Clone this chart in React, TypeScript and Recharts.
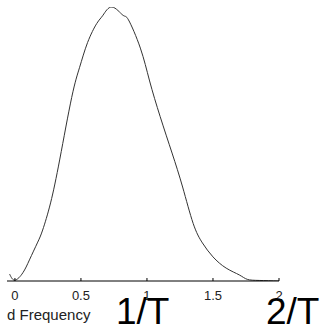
import React from 'react';
import { LineChart, Line, XAxis, YAxis } from 'recharts';

// normalized frequency (x) and magnitude (y)
const freq = [-0.04, 0, 0.06, 0.11, 0.17, 0.21, 0.27, 0.34, 0.43, 0.49, 0.55, 0.62, 0.667, 0.735, 0.818, 0.86, 0.95, 1.02, 1.1, 1.19, 1.27, 1.35, 1.42, 1.5, 1.6, 1.7, 1.76, 1.85, 2];
const magnitude = [0.025, 0.003, 0.03, 0.077, 0.139, 0.186, 0.285, 0.445, 0.67, 0.78, 0.87, 0.94, 0.97, 1.0, 0.97, 0.953, 0.85, 0.73, 0.6, 0.467, 0.343, 0.21, 0.139, 0.088, 0.047, 0.022, 0.006, 0.002, 0];
const xTicks = [0, 0.5, 1, 1.5, 2];

const data = freq.map((f, i) => ({ f, m: magnitude[i] }));

const font = '"Liberation Sans", Arial, sans-serif';

const Tick = (props: any) => {
  const { x, y, payload } = props;
  return (
    <g>
      <line x1={x} x2={x} y1={y} y2={y - 3} stroke="#000" />
      <text x={x} y={y + 19} textAnchor="middle" fontSize={13} fontFamily={font} fill="#222">
        {String(payload.value)}
      </text>
    </g>
  );
};

export default function App() {
  return (
    <div style={{ position: 'absolute', left: 0, top: 0, width: 323, height: 327, background: '#fff' }}>
      <LineChart width={323} height={327} data={data} margin={{ top: 7, right: 44, bottom: 16, left: 7 }}>
        <XAxis
          type="number"
          dataKey="f"
          domain={[-0.06, 2]}
          ticks={xTicks}
          allowDataOverflow
          height={30}
          tickSize={0}
          tickMargin={0}
          tickLine={false}
          axisLine={{ stroke: '#000', strokeWidth: 1 }}
          tick={<Tick />}
        />
        <YAxis hide domain={[0, 1]} allowDataOverflow />
        <Line type="natural" dataKey="m" stroke="#333" strokeWidth={1} dot={false} isAnimationActive={false} />
      </LineChart>
      <svg width={323} height={327} style={{ position: 'absolute', left: 0, top: 0, pointerEvents: 'none' }}>
        <text x={7} y={320} fontSize={15} fontFamily={font} fill="#222">d Frequency</text>
        <text x={116} y={324} fontSize={37} fontFamily={font} fill="#000">1/T</text>
        <text x={266} y={324} fontSize={37} fontFamily={font} fill="#000">2/T</text>
      </svg>
    </div>
  );
}
